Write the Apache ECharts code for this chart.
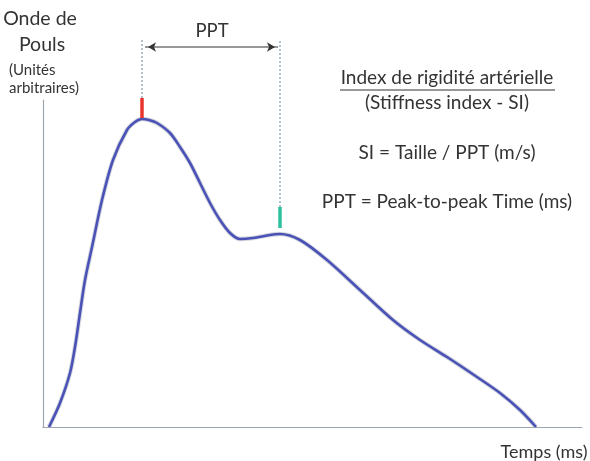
<!DOCTYPE html>
<html><head><meta charset="utf-8">
<script src="https://cdn.jsdelivr.net/npm/echarts@6/dist/echarts.min.js"></script>
<style>html,body{margin:0;padding:0;background:#fff}#c{width:590px;height:461px}</style>
</head><body><div id="c"></div>
<script>
// Pulse wave (arbitrary units) vs time (arbitrary ms scale)
const timeVals = [6,17,27,32,37,42,49,59,70,84,92,99,106,114,127,137,147,157,167,177,187,197,210,227,237,257,284,317,350,377,404,434,457,477,493];
const waveVals = [0,24,54,80,114,147,180,227,267,297,305,308,307,304,294,280,264,244,224,207,194,188,189,192,193,187,167,137,107,87,70,50,34,17,0];
const peak1 = [99, 309, 329];   // time, bar bottom, bar top
const peak2 = [237, 199, 220];
const guideTop = 387;
const arrowY = 380;
const arrowX = [102, 235];

const FONT = 'Lato, "Open Sans", sans-serif';
const chart = echarts.init(document.getElementById('c'));
const curve = timeVals.map((t, i) => [t, waveVals[i]]);
chart.setOption({
  animation: false,
  grid: {left: 43, right: 8, top: 100, bottom: 34},
  xAxis: {type: 'value', min: 0, max: 539, axisLine: {lineStyle: {color: '#9ea6b0', width: 1.2}},
    axisTick: {show: false}, axisLabel: {show: false}, splitLine: {show: false}},
  yAxis: {type: 'value', min: 0, max: 327, axisLine: {show: true, lineStyle: {color: '#9ea6b0', width: 1.2}},
    axisTick: {show: false}, axisLabel: {show: false}, splitLine: {show: false}},
  series: [
    {type: 'line', data: curve, smooth: 0.3, symbol: 'none', clip: false,
      lineStyle: {color: '#b8bcc4', width: 4.5, opacity: 0.6}, z: 1},
    {type: 'line', data: curve, smooth: 0.3, symbol: 'none', clip: false,
      lineStyle: {color: '#4a52b8', width: 2.6}, z: 2},
    {type: 'line', data: [[peak1[0], peak1[2]], [peak1[0], guideTop]], symbol: 'none', clip: false,
      lineStyle: {color: '#7f98aa', width: 1.2, type: [2, 2]}},
    {type: 'line', data: [[peak2[0], peak2[2]], [peak2[0], guideTop]], symbol: 'none', clip: false,
      lineStyle: {color: '#7f98aa', width: 1.2, type: [2, 2]}},
    {type: 'line', data: [[peak1[0], peak1[1]], [peak1[0], peak1[2]]], symbol: 'none', clip: false,
      lineStyle: {color: '#e8352c', width: 3.5}, z: 3},
    {type: 'line', data: [[peak2[0], peak2[1]], [peak2[0], peak2[2]]], symbol: 'none', clip: false,
      lineStyle: {color: '#2cc09c', width: 3.5}, z: 3},
    {type: 'line', clip: false, showSymbol: true, symbol: 'arrow', symbolSize: [7, 8],
      itemStyle: {color: '#333'}, lineStyle: {color: '#333', width: 1.2},
      data: [{value: [arrowX[0], arrowY], symbolRotate: 90, symbolOffset: [3, 0]},
             {value: [arrowX[1], arrowY], symbolRotate: -90, symbolOffset: [-3, 0]}], z: 4}
  ],
  graphic: [
    {type: 'text', x: 212, y: 31, style: {text: 'PPT', fontSize: 18.5, fontFamily: FONT, fill: '#333', align: 'center', verticalAlign: 'middle'}},
    {type: 'text', x: 40, y: 19, style: {text: 'Onde de', fontSize: 19.5, fontFamily: FONT, fill: '#333', align: 'center', verticalAlign: 'middle'}},
    {type: 'text', x: 42, y: 45, style: {text: 'Pouls', fontSize: 19.5, fontFamily: FONT, fill: '#333', align: 'center', verticalAlign: 'middle'}},
    {type: 'text', x: 9, y: 70, style: {text: '(Unités', fontSize: 15, fontFamily: FONT, fill: '#333', verticalAlign: 'middle'}},
    {type: 'text', x: 9, y: 88, style: {text: 'arbitraires)', fontSize: 15, fontFamily: FONT, fill: '#333', verticalAlign: 'middle'}},
    {type: 'text', x: 447, y: 78, style: {text: 'Index de rigidité artérielle', fontSize: 19, fontFamily: FONT, fill: '#333', align: 'center', verticalAlign: 'middle'}},
    {type: 'line', shape: {x1: 340, y1: 90, x2: 555, y2: 90}, style: {stroke: '#333', lineWidth: 1}},
    {type: 'text', x: 447, y: 103, style: {text: '(Stiffness index - SI)', fontSize: 19, fontFamily: FONT, fill: '#333', align: 'center', verticalAlign: 'middle'}},
    {type: 'text', x: 447, y: 153, style: {text: 'SI = Taille / PPT (m/s)', fontSize: 19, fontFamily: FONT, fill: '#333', align: 'center', verticalAlign: 'middle'}},
    {type: 'text', x: 447, y: 202, style: {text: 'PPT = Peak-to-peak Time (ms)', fontSize: 19, fontFamily: FONT, fill: '#333', align: 'center', verticalAlign: 'middle'}},
    {type: 'text', x: 544, y: 452, style: {text: 'Temps (ms)', fontSize: 18, fontFamily: FONT, fill: '#333', align: 'center', verticalAlign: 'middle'}}
  ]
});
</script></body></html>
